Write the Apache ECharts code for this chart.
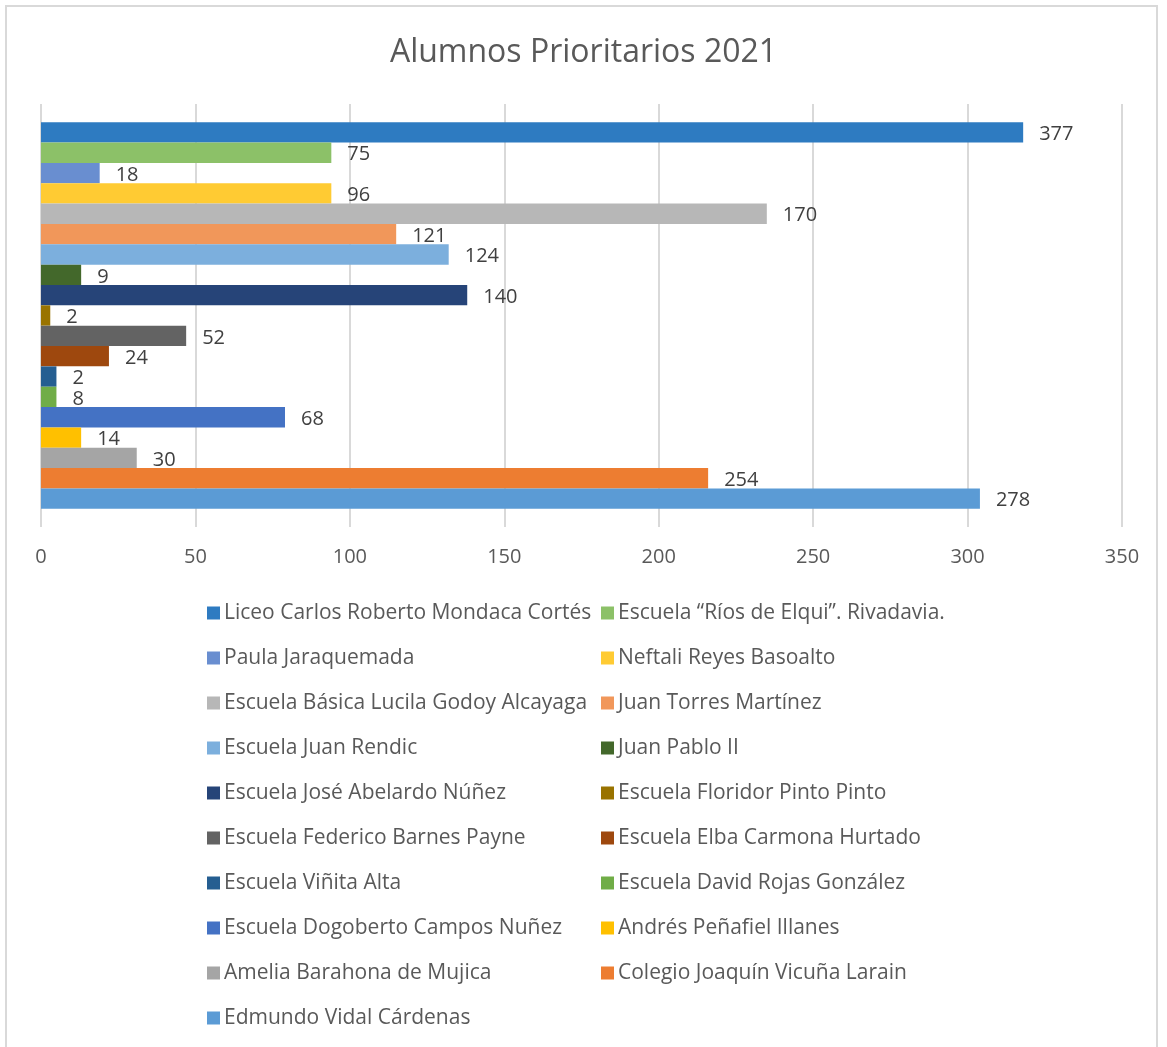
<!DOCTYPE html>
<html>
<head>
<meta charset="utf-8">
<title>Alumnos Prioritarios 2021</title>
<script src="https://cdn.jsdelivr.net/npm/echarts@6/dist/echarts.min.js"></script>
<style>
  html, body { margin: 0; padding: 0; background: #fff; }
  #frame { position: absolute; left: 5px; top: 5px; width: 1153px; height: 1060px; border: 2px solid #d9d9d9; box-sizing: border-box; }
  #chart { position: absolute; left: 0; top: 0; width: 1167px; height: 1047px; }
</style>
</head>
<body>
<div id="frame"></div>
<div id="chart"></div>
<script>
// escuelas (orden de la leyenda)
const schools = [
  'Liceo Carlos Roberto Mondaca Cortés',
  'Escuela “Ríos de Elqui”. Rivadavia.',
  'Paula Jaraquemada',
  'Neftali Reyes Basoalto',
  'Escuela Básica Lucila Godoy Alcayaga',
  'Juan Torres Martínez',
  'Escuela Juan Rendic',
  'Juan Pablo II',
  'Escuela José Abelardo Núñez',
  'Escuela Floridor Pinto Pinto',
  'Escuela Federico Barnes Payne',
  'Escuela Elba Carmona Hurtado',
  'Escuela Viñita Alta',
  'Escuela David Rojas González',
  'Escuela Dogoberto Campos Nuñez',
  'Andrés Peñafiel Illanes',
  'Amelia Barahona de Mujica',
  'Colegio Joaquín Vicuña Larain',
  'Edmundo Vidal Cárdenas'
]
const barValues = [318, 94, 19, 94, 235, 115, 132, 13, 138, 3, 47, 22, 5, 5, 79, 13, 31, 216, 304]
// etiquetas de datos tal como aparecen
const dataLabels = [377, 75, 18, 96, 170, 121, 124, 9, 140, 2, 52, 24, 2, 8, 68, 14, 30, 254, 278]
const colors = [
  '#2E7BC1', '#8CC168', '#698ED0', '#FFCB33', '#B7B7B7', '#F1975A', '#7CAFDD',
  '#43682B', '#264478', '#997300', '#636363', '#9E480E', '#255E91', '#70AD47',
  '#4472C4', '#FFC000', '#A5A5A5', '#ED7D31', '#5B9BD5'
]
const xTicks = [0, 50, 100, 150, 200, 250, 300, 350]

const font = '"Open Sans", "Noto Sans", sans-serif'
const chart = echarts.init(document.getElementById('chart'))

const series = schools.map((name, i) => ({
  name: name,
  type: 'bar',
  data: [barValues[i]],
  barGap: '0%',
  barCategoryGap: '8.6%',
  itemStyle: { color: colors[i] },
  label: {
    show: true,
    position: 'right',
    distance: 16,
    offset: [0, 2],
    color: '#404040',
    fontSize: 20,
    fontFamily: font,
    formatter: () => String(dataLabels[i])
  },
  animation: false
}))

const legendBase = {
  orient: 'vertical',
  top: 596,
  itemWidth: 13,
  itemHeight: 13,
  itemGap: 21,
  icon: 'rect',
  textStyle: { color: '#595959', fontSize: 21, fontFamily: font, lineHeight: 24, padding: [0, 0, 0, -1] }
}

chart.setOption({
  color: colors,
  title: {
    text: 'Alumnos Prioritarios 2021',
    left: 'center',
    top: 32,
    textStyle: { color: '#595959', fontSize: 32, fontWeight: 'normal', fontFamily: font }
  },
  grid: { left: 41, right: 45, top: 104, bottom: 520 },
  xAxis: {
    type: 'value',
    min: xTicks[0],
    max: xTicks[xTicks.length - 1],
    interval: 50,
    axisLine: { show: false },
    axisTick: { show: false },
    axisLabel: { color: '#595959', fontSize: 20, fontFamily: font, margin: 20 },
    splitLine: { lineStyle: { color: '#d9d9d9', width: 2 } }
  },
  yAxis: {
    type: 'category',
    data: ['2021'],
    show: false
  },
  legend: [
    Object.assign({}, legendBase, { left: 202, data: schools.filter((s, i) => i % 2 === 0) }),
    Object.assign({}, legendBase, { left: 596, data: schools.filter((s, i) => i % 2 === 1) })
  ],
  series: series
})
</script>
</body>
</html>
